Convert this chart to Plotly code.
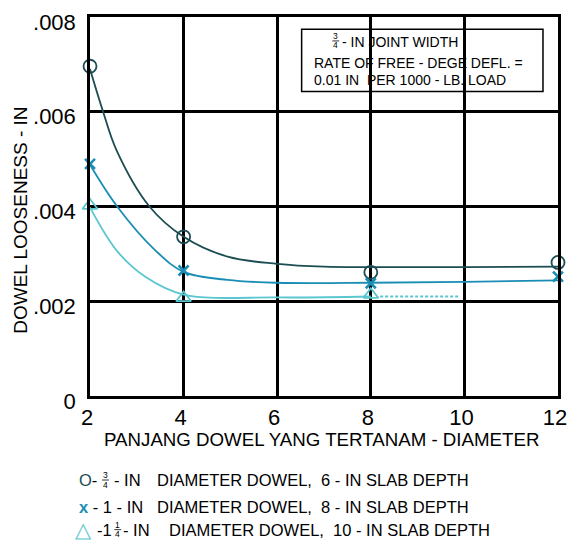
import plotly.graph_objects as go

# ---------------- data ----------------
# observed points
circle_x = [2, 4, 8, 12]
circle_y = [0.00696, 0.00336, 0.00261, 0.00282]
cross_x = [2, 4, 8, 12]
cross_y = [0.00490, 0.00265, 0.00238, 0.00252]
tri_x = [2, 4, 8]
tri_y = [0.00402, 0.00207, 0.00214]

# smooth fitted curves
circle_curve_x = [2, 2.28, 2.57, 3.27, 4, 4.94, 6, 7, 8, 10, 12]
circle_curve_y = [0.00690, 0.00600, 0.00518, 0.00400, 0.00336, 0.00294, 0.00279, 0.00273, 0.00272, 0.00272, 0.00273]
cross_curve_x = [2, 2.58, 3.40, 4, 4.94, 6, 8, 10, 12]
cross_curve_y = [0.00488, 0.00400, 0.00307, 0.00262, 0.00245, 0.00239, 0.00239, 0.00241, 0.00244]
tri_curve_x = [2, 2.57, 3.19, 4, 6, 8]
tri_curve_y = [0.00398, 0.00307, 0.00251, 0.00214, 0.00208, 0.00210]
tri_dash_x = [8.2, 9.9]
tri_dash_y = [0.00210, 0.00210]

x_ticks = [2, 4, 6, 8, 10, 12]
y_ticks = [0, 0.002, 0.004, 0.006, 0.008]
y_tick_labels = ["0", ".002", ".004", ".006", ".008"]

x_title = "PANJANG DOWEL YANG TERTANAM - DIAMETER"
y_title = "DOWEL LOOSENESS - IN"

C_DARK = "#1c4d53"
C_MID = "#1a8db4"
C_LIGHT = "#5ac6cf"
FONT = "Liberation Sans, Arial, sans-serif"

# ---------------- layout geometry ----------------
W, H = 577, 541
L, R, T, B = 90, 567, 16, 396
PW, PH = R - L, B - T


def px(x):
    return (x - L) / PW


def py(y):
    return (B - y) / PH


fig = go.Figure()

fig.add_trace(go.Scatter(x=circle_curve_x, y=circle_curve_y, mode="lines",
                         line=dict(color=C_DARK, width=1.8, shape="spline", smoothing=1.0),
                         showlegend=False, hoverinfo="skip"))
fig.add_trace(go.Scatter(x=cross_curve_x, y=cross_curve_y, mode="lines",
                         line=dict(color=C_MID, width=1.8, shape="spline", smoothing=1.0),
                         showlegend=False, hoverinfo="skip"))
fig.add_trace(go.Scatter(x=tri_curve_x, y=tri_curve_y, mode="lines",
                         line=dict(color=C_LIGHT, width=1.8, shape="spline", smoothing=1.0),
                         showlegend=False, hoverinfo="skip"))
fig.add_trace(go.Scatter(x=tri_dash_x, y=tri_dash_y, mode="lines",
                         line=dict(color=C_LIGHT, width=1.8, dash="3px,2px"),
                         showlegend=False, hoverinfo="skip"))

fig.add_trace(go.Scatter(x=circle_x, y=circle_y, mode="markers", cliponaxis=False,
                         marker=dict(symbol="circle-open", size=13, color=C_DARK,
                                     line=dict(width=1.8, color=C_DARK)),
                         showlegend=False))
fig.add_trace(go.Scatter(x=cross_x, y=cross_y, mode="markers", cliponaxis=False,
                         marker=dict(symbol="x-thin-open", size=10, color=C_MID,
                                     line=dict(width=2.6, color=C_MID)),
                         showlegend=False))
fig.add_trace(go.Scatter(x=tri_x, y=tri_y, mode="markers", cliponaxis=False,
                         marker=dict(symbol="triangle-up-open", size=13, color=C_LIGHT,
                                     line=dict(width=1.8, color=C_LIGHT)),
                         showlegend=False))

# info box (behind gridlines)
fig.add_shape(type="rect", xref="x", yref="y", layer="below",
              x0=2 + (305.7 - L) / PW * 10, x1=2 + (551.7 - L) / PW * 10,
              y0=(B - 90.7) / PH * 0.008, y1=(B - 28.3) / PH * 0.008,
              line=dict(color="black", width=1.5), fillcolor="white")

ann = []


def text(x, y, s, size, anchor="left", color="black", angle=0):
    ann.append(dict(xref="paper", yref="paper", x=px(x), y=py(y), text=s,
                    showarrow=False, xanchor=anchor, yanchor="middle",
                    textangle=angle, font=dict(family=FONT, size=size, color=color)))


def frac(x, ytop, ybot, top, bot, size):
    text(x, ytop, top, size, anchor="center")
    text(x, ybot, bot, size, anchor="center")
    fig.add_shape(type="line", xref="paper", yref="paper", layer="above",
                  x0=px(x - 3.5), x1=px(x + 3.5), y0=py((ytop + ybot) / 2), y1=py((ytop + ybot) / 2),
                  line=dict(color="black", width=0.8))


# box text
frac(340.5, 35.5, 44.5, "3", "4", 8.5)
text(344.5, 41.5, "- IN JOINT WIDTH", 14)
text(316, 62.5, "RATE OF FREE - DEGE DEFL. =", 14)
text(316, 79.5, "0.01 IN\u00a0\u00a0PER 1000 - LB. LOAD", 14)

# axis titles
text(326, 440, x_title, 18.7, anchor="center")
text(19, 220, y_title, 19, anchor="center", angle=-90)

# legend
text(77, 480.5, f"<span style='color:{C_DARK}'>O</span>-", 16.5)
frac(105.8, 475.5, 485, "3", "4", 8.5)
text(112, 480.5, "- IN", 16.5)
text(156.7, 480.5, "DIAMETER DOWEL,\u00a0\u00a06 - IN SLAB DEPTH", 16.5)

text(77, 507, f"<span style='color:{C_MID}'><b>x</b></span> - 1 - IN", 16.5)
text(156.7, 507, "DIAMETER DOWEL,\u00a0\u00a08 - IN SLAB DEPTH", 16.5)

text(73, 530, f"<span style='color:{C_LIGHT}'>\u25b3</span>", 21)
text(95, 530.5, "-1", 16.5)
frac(118.3, 525.5, 534.5, "1", "4", 8.5)
text(122, 530.5, "- IN", 16.5)
text(168, 530.5, "DIAMETER DOWEL,\u00a0\u00a010 - IN SLAB DEPTH", 16.5)

fig.update_layout(
    width=W, height=H,
    margin=dict(l=L, r=W - R, t=T, b=H - B, pad=0),
    paper_bgcolor="white", plot_bgcolor="white",
    font=dict(family=FONT, color="black"),
    annotations=ann,
    showlegend=False,
)
fig.update_xaxes(range=[2, 12], tickvals=x_ticks, ticktext=[str(v) for v in x_ticks],
                 showgrid=True, gridcolor="black", gridwidth=2.5,
                 showline=True, linecolor="black", linewidth=2.5, mirror=True,
                 zeroline=False, ticks="", tickfont=dict(size=22, family=FONT),
                 ticklabelshift=-3, ticklabelstandoff=0)
fig.update_yaxes(range=[0, 0.008], tickvals=y_ticks, ticktext=y_tick_labels,
                 showgrid=True, gridcolor="black", gridwidth=2.5,
                 showline=True, linecolor="black", linewidth=2.5, mirror=True,
                 zeroline=False, ticks="", tickfont=dict(size=22, family=FONT),
                 ticklabelshift=5, ticklabelstandoff=7)

fig.write_html("out.html", config={"displayModeBar": False},
               post_script="document.body.style.margin='0';document.body.style.overflow='hidden';")
